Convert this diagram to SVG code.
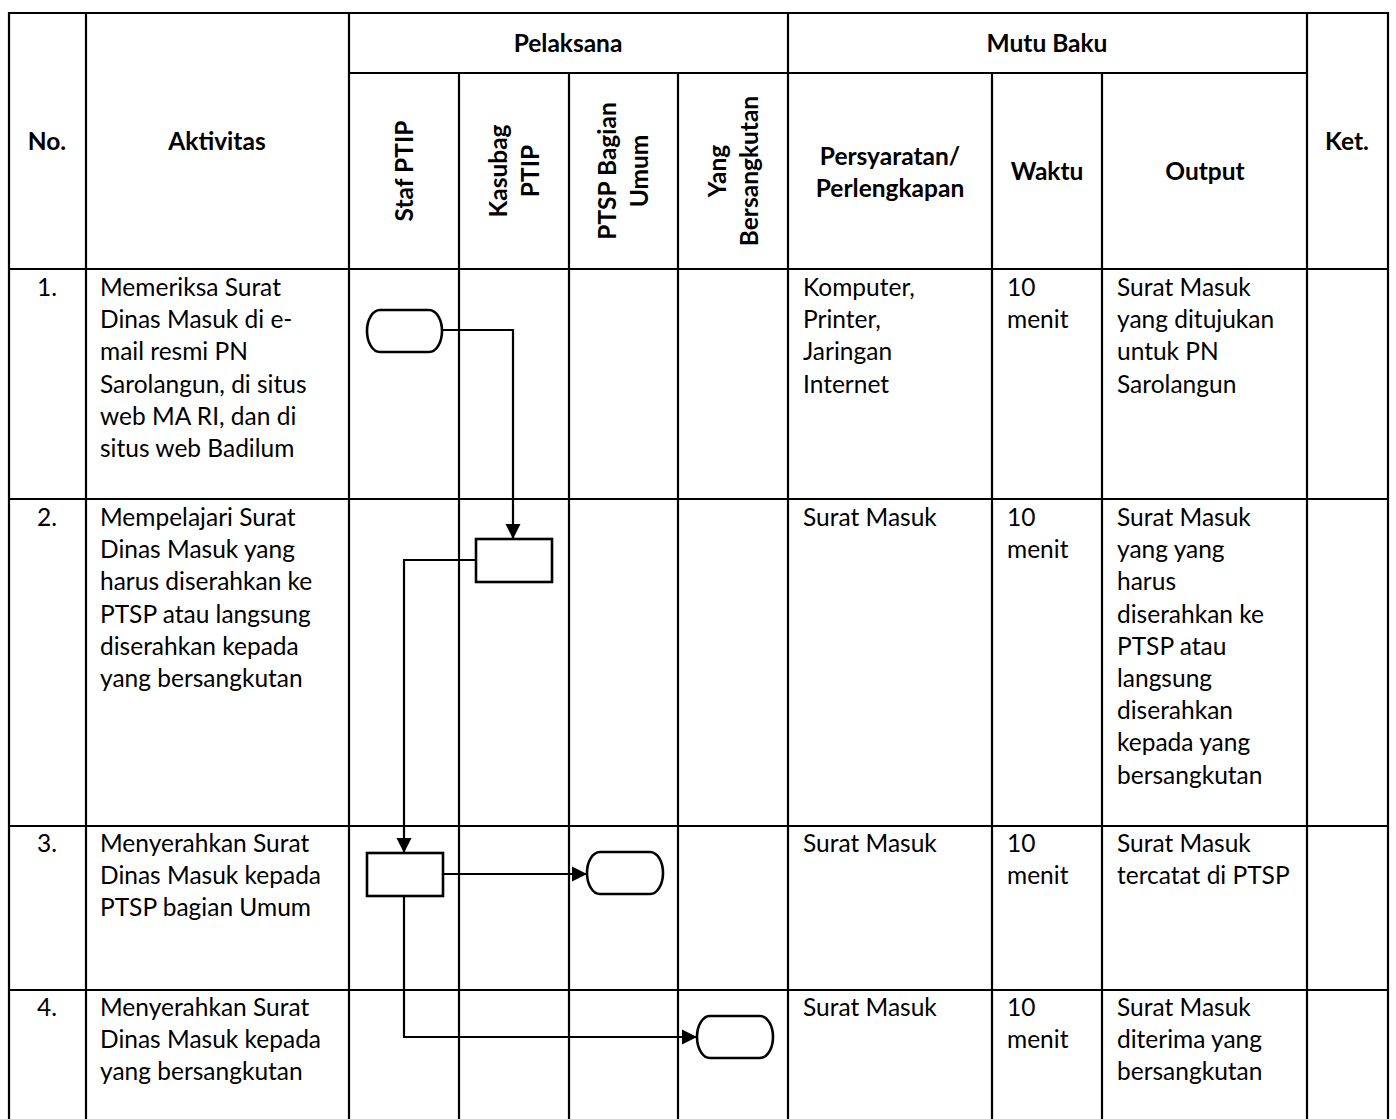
<svg xmlns="http://www.w3.org/2000/svg" width="1396" height="1119" viewBox="0 0 1396 1119">
<style>
.grid line{stroke:#000;stroke-width:2.2}
.t{font-family:Lato,"Liberation Sans",sans-serif;font-size:24.5px;fill:#000}
.h{font-family:Lato,"Liberation Sans",sans-serif;font-size:24.5px;font-weight:bold;fill:#000}
.c{text-anchor:middle}
.shape{fill:#fff;stroke:#000;stroke-width:2.6}
.conn{fill:none;stroke:#000;stroke-width:2.2}
</style>
<defs>
<marker id="arr" markerUnits="userSpaceOnUse" markerWidth="16" markerHeight="16" viewBox="0 0 16 16" refX="15" refY="8" orient="auto">
<path d="M0,0.5 L15,8 L0,15.5 Z" fill="#000"/>
</marker>
</defs>
<rect width="1396" height="1119" fill="#fff"/>
<g id="grid" class="grid">
<line x1="8" y1="13" x2="1389" y2="13"/>
<line x1="349" y1="73" x2="1307" y2="73"/>
<line x1="8" y1="269" x2="1389" y2="269"/>
<line x1="8" y1="499" x2="1389" y2="499"/>
<line x1="8" y1="826" x2="1389" y2="826"/>
<line x1="8" y1="990" x2="1389" y2="990"/>
<line x1="9" y1="12" x2="9" y2="1119"/>
<line x1="86" y1="12" x2="86" y2="1119"/>
<line x1="349" y1="12" x2="349" y2="1119"/>
<line x1="459" y1="73" x2="459" y2="1119"/>
<line x1="569" y1="73" x2="569" y2="1119"/>
<line x1="678" y1="73" x2="678" y2="1119"/>
<line x1="788" y1="12" x2="788" y2="1119"/>
<line x1="992" y1="73" x2="992" y2="1119"/>
<line x1="1102" y1="73" x2="1102" y2="1119"/>
<line x1="1307" y1="12" x2="1307" y2="1119"/>
<line x1="1388" y1="12" x2="1388" y2="1119"/>
</g>
<g id="header">
<text class="h c" x="568" y="52">Pelaksana</text>
<text class="h c" x="1047" y="52">Mutu Baku</text>
<text class="h c" x="47" y="150">No.</text>
<text class="h c" x="217" y="150">Aktivitas</text>
<text class="h c" x="1347" y="150">Ket.</text>
<text class="h c" x="890" y="165">Persyaratan/</text>
<text class="h c" x="890" y="197">Perlengkapan</text>
<text class="h c" x="1047" y="180">Waktu</text>
<text class="h c" x="1205" y="180">Output</text>
<text class="h c" transform="translate(413,171) rotate(-90)">Staf PTIP</text>
<text class="h c" transform="translate(507,171) rotate(-90)">Kasubag</text>
<text class="h c" transform="translate(539,171) rotate(-90)">PTIP</text>
<text class="h c" transform="translate(616,171) rotate(-90)">PTSP Bagian</text>
<text class="h c" transform="translate(648,171) rotate(-90)">Umum</text>
<text class="h c" transform="translate(726,171) rotate(-90)">Yang</text>
<text class="h c" transform="translate(758,171) rotate(-90)">Bersangkutan</text>
</g>
<g id="row1">
<text class="t c" x="47" y="296">1.</text>
<text class="t" x="100" y="296">Memeriksa Surat</text>
<text class="t" x="100" y="328.2">Dinas Masuk di e-</text>
<text class="t" x="100" y="360.4">mail resmi PN</text>
<text class="t" x="100" y="392.6">Sarolangun, di situs</text>
<text class="t" x="100" y="424.8">web MA RI, dan di</text>
<text class="t" x="100" y="457">situs web Badilum</text>
<text class="t" x="803" y="296">Komputer,</text>
<text class="t" x="803" y="328.2">Printer,</text>
<text class="t" x="803" y="360.4">Jaringan</text>
<text class="t" x="803" y="392.6">Internet</text>
<text class="t" x="1007" y="296">10</text>
<text class="t" x="1007" y="328.2">menit</text>
<text class="t" x="1117" y="296">Surat Masuk</text>
<text class="t" x="1117" y="328.2">yang ditujukan</text>
<text class="t" x="1117" y="360.4">untuk PN</text>
<text class="t" x="1117" y="392.6">Sarolangun</text>
</g>
<g id="row2">
<text class="t c" x="47" y="526">2.</text>
<text class="t" x="100" y="526">Mempelajari Surat</text>
<text class="t" x="100" y="558.2">Dinas Masuk yang</text>
<text class="t" x="100" y="590.4">harus diserahkan ke</text>
<text class="t" x="100" y="622.6">PTSP atau langsung</text>
<text class="t" x="100" y="654.8">diserahkan kepada</text>
<text class="t" x="100" y="687">yang bersangkutan</text>
<text class="t" x="803" y="526">Surat Masuk</text>
<text class="t" x="1007" y="526">10</text>
<text class="t" x="1007" y="558.2">menit</text>
<text class="t" x="1117" y="526">Surat Masuk</text>
<text class="t" x="1117" y="558.2">yang yang</text>
<text class="t" x="1117" y="590.4">harus</text>
<text class="t" x="1117" y="622.6">diserahkan ke</text>
<text class="t" x="1117" y="654.8">PTSP atau</text>
<text class="t" x="1117" y="687">langsung</text>
<text class="t" x="1117" y="719.2">diserahkan</text>
<text class="t" x="1117" y="751.4">kepada yang</text>
<text class="t" x="1117" y="783.6">bersangkutan</text>
</g>
<g id="row3">
<text class="t c" x="47" y="852">3.</text>
<text class="t" x="100" y="852">Menyerahkan Surat</text>
<text class="t" x="100" y="884.2">Dinas Masuk kepada</text>
<text class="t" x="100" y="916.4">PTSP bagian Umum</text>
<text class="t" x="803" y="852">Surat Masuk</text>
<text class="t" x="1007" y="852">10</text>
<text class="t" x="1007" y="884.2">menit</text>
<text class="t" x="1117" y="852">Surat Masuk</text>
<text class="t" x="1117" y="884.2">tercatat di PTSP</text>
</g>
<g id="row4">
<text class="t c" x="47" y="1016">4.</text>
<text class="t" x="100" y="1016">Menyerahkan Surat</text>
<text class="t" x="100" y="1048.2">Dinas Masuk kepada</text>
<text class="t" x="100" y="1080.4">yang bersangkutan</text>
<text class="t" x="803" y="1016">Surat Masuk</text>
<text class="t" x="1007" y="1016">10</text>
<text class="t" x="1007" y="1048.2">menit</text>
<text class="t" x="1117" y="1016">Surat Masuk</text>
<text class="t" x="1117" y="1048.2">diterima yang</text>
<text class="t" x="1117" y="1080.4">bersangkutan</text>
</g>
<g id="connectors">
<path class="conn" d="M442,330 H513 V539" marker-end="url(#arr)"/>
<path class="conn" d="M476,560 H404 V853" marker-end="url(#arr)"/>
<path class="conn" d="M443,874 H587" marker-end="url(#arr)"/>
<path class="conn" d="M404,896 V1037 H697" marker-end="url(#arr)"/>
</g>
<g id="n1-start"><rect class="shape" x="367" y="310" width="75" height="42" rx="13" ry="21"/></g>
<g id="n2-process"><rect class="shape" x="476" y="539" width="76" height="43"/></g>
<g id="n3-process"><rect class="shape" x="367" y="853" width="76" height="43"/></g>
<g id="n3-end"><rect class="shape" x="587" y="852" width="76" height="42" rx="13" ry="21"/></g>
<g id="n4-end"><rect class="shape" x="697" y="1016" width="76" height="42" rx="13" ry="21"/></g>
</svg>
